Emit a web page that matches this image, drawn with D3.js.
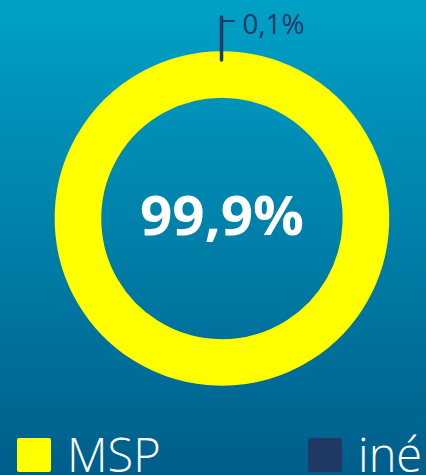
<!DOCTYPE html>
<html><head><meta charset="utf-8">
<script src="https://cdn.jsdelivr.net/npm/d3@7"></script>
<style>html,body{margin:0;padding:0;overflow:hidden;}</style>
</head><body>
<script>
const categories = ["MSP", "iné"];
const values = [99.9, 0.1];
const labels = ["99,9%", "0,1%"];
const colors = ["#ffff00", "#203864"];

const W = 426, H = 475;
const svg = d3.select("body").append("svg").attr("width", W).attr("height", H);
const defs = svg.append("defs");
const g = defs.append("linearGradient").attr("id","bg").attr("x1",0).attr("y1",0).attr("x2",0).attr("y2",1);
g.append("stop").attr("offset","0%").attr("stop-color","#00a1c6");
g.append("stop").attr("offset","100%").attr("stop-color","#005e8b");
svg.append("rect").attr("width",W).attr("height",H).attr("fill","url(#bg)");

const cx = 222, cy = 218.5, rOut = 166.5, rIn = 121.5;
const pie = d3.pie().sort(null).value(d => d)(values);
const arc = d3.arc().innerRadius(rIn).outerRadius(rOut);
const chart = svg.append("g").attr("transform", `translate(${cx},${cy})`);
chart.selectAll("path.slice").data(pie).join("path").attr("class","slice")
  .attr("d", arc).attr("fill", (d,i) => colors[i]);
// yellow edge of big slice, as in reference where the tiny slice is barely visible
chart.append("path").attr("d", arc(pie[0])).attr("fill","none")
  .attr("stroke", colors[0]).attr("stroke-width", 1.6);

// leader line for small slice
const small = pie[1];
const mid = (small.startAngle + small.endAngle)/2;
const x0 = Math.sin(mid)*(rOut-8), y0 = -Math.cos(mid)*(rOut-8);
const y1 = -Math.cos(mid)*(rOut+35);
chart.append("path")
  .attr("d", `M${x0},${y0} L${x0},${y1}`)
  .attr("stroke", colors[1]).attr("stroke-width", 3.5).attr("stroke-linecap","round").attr("fill","none");
chart.append("path")
  .attr("d", `M${x0},${y1+4} L${x0+13},${y1+4}`)
  .attr("stroke", colors[1]).attr("stroke-width", 2).attr("fill","none");
chart.append("text").attr("x", x0+21).attr("y", y1+17)
  .attr("font-family","Open Sans, sans-serif").attr("font-size", 27).attr("fill", colors[1])
  .attr("textLength", 62).attr("lengthAdjust","spacingAndGlyphs")
  .text(labels[1]);

chart.append("text").attr("x", 0).attr("y", 16.5)
  .attr("text-anchor","middle")
  .attr("font-family","Open Sans, sans-serif").attr("font-weight","bold").attr("font-size", 54)
  .attr("textLength", 164).attr("lengthAdjust","spacingAndGlyphs")
  .attr("fill","#ffffff").text(labels[0]);

// legend
const legX = [17, 308];
const leg = svg.append("g");
categories.forEach((c,i) => {
  leg.append("rect").attr("x", legX[i]).attr("y", 438).attr("width", 34).attr("height", 34).attr("rx",2)
    .attr("fill", colors[i]);
  leg.append("text").attr("x", legX[i]+50).attr("y", 472)
    .attr("font-family","Open Sans, sans-serif").attr("font-weight", 300).attr("font-size", 47)
    .attr("fill","#ffffff").text(c);
});
</script>
</body></html>
